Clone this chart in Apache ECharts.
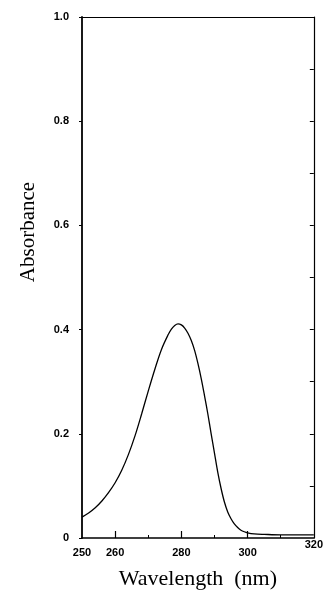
<!DOCTYPE html>
<html>
<head>
<meta charset="utf-8">
<script src="https://cdn.jsdelivr.net/npm/echarts@6/dist/echarts.min.js"></script>
<style>
  html, body { margin: 0; padding: 0; background: #fff; }
  #chart { width: 326px; height: 595px; }
</style>
</head>
<body>
<div id="chart"></div>
<script>
// absorption spectrum
const wavelength = [250, 252, 254, 256, 258, 260, 262, 264, 266, 268, 270, 272, 274, 276, 277, 278, 279, 280,
  281, 282, 283, 284, 285, 286, 287, 288, 289, 290, 291, 292, 293, 294, 295, 296, 297, 298, 299, 300,
  302, 305, 310, 315, 320];
const absorbance = [0.040, 0.048, 0.058, 0.071, 0.087, 0.106, 0.130, 0.160, 0.196, 0.238, 0.282, 0.324, 0.362, 0.390, 0.401, 0.408, 0.411, 0.409,
  0.403, 0.393, 0.379, 0.360, 0.335, 0.306, 0.273, 0.238, 0.200, 0.163, 0.126, 0.095, 0.069, 0.050, 0.037, 0.027, 0.020, 0.015, 0.012, 0.010,
  0.008, 0.007, 0.006, 0.006, 0.006];

const xLabels = [250, 260, 280, 300, 320];
const xMajorTicks = [260, 280, 300];
const xMinorTicks = [270, 290, 310];
const yLabels = [0, 0.2, 0.4, 0.6, 0.8, 1.0];
const yRightTicks = [0.1, 0.2, 0.3, 0.4, 0.5, 0.6, 0.7, 0.8, 0.9];

const chart = echarts.init(document.getElementById('chart'), null, { renderer: 'canvas' });

const tickFont = { fontFamily: 'Liberation Sans', fontWeight: 'bold', fontSize: 11, color: '#000' };

const option = {
  animation: false,
  backgroundColor: '#fff',
  grid: { left: 82, right: 10, top: 17, bottom: 51 },
  graphic: [{
    type: 'text',
    x: 28,
    y: 232,
    rotation: Math.PI / 2,
    style: {
      text: 'Absorbance',
      font: '21px "Liberation Serif"',
      fill: '#000',
      align: 'center',
      verticalAlign: 'middle'
    }
  }],
  xAxis: [
    {
      type: 'value',
      position: 'bottom',
      min: 250,
      max: 320,
      interval: 10,
      axisLine: { lineStyle: { color: '#000', width: 1.5 } },
      axisTick: { inside: true, length: 7, customValues: xMajorTicks, lineStyle: { color: '#000', width: 1.2 } },
      axisLabel: {
        customValues: xLabels,
        margin: 1,
        formatter: v => v === 320 ? '{hi|320}' : '{n|' + v + '}',
        rich: {
          n: Object.assign({ lineHeight: 27 }, tickFont),
          hi: Object.assign({ lineHeight: 11 }, tickFont)
        }
      },
      splitLine: { show: false },
      name: 'Wavelength  (nm)',
      nameLocation: 'middle',
      nameGap: 41,
      nameTextStyle: { fontFamily: 'Liberation Serif', fontSize: 22, color: '#000', verticalAlign: 'middle' }
    },
    {
      type: 'value',
      position: 'bottom',
      min: 250,
      max: 320,
      interval: 10,
      axisLine: { show: false },
      axisTick: { inside: true, length: 3, customValues: xMinorTicks, lineStyle: { color: '#000', width: 1 } },
      axisLabel: { show: false },
      splitLine: { show: false }
    },
    {
      type: 'value',
      position: 'top',
      min: 250,
      max: 320,
      axisLine: { lineStyle: { color: '#000', width: 1 } },
      axisTick: { show: false },
      axisLabel: { show: false },
      splitLine: { show: false }
    }
  ],
  yAxis: [
    {
      type: 'value',
      position: 'left',
      min: 0,
      max: 1.0,
      interval: 0.2,
      axisLine: { show: true, lineStyle: { color: '#000', width: 1.8 } },
      axisTick: { show: true, length: 3, lineStyle: { color: '#000', width: 1 } },
      axisLabel: Object.assign({
        customValues: yLabels,
        margin: 13,
        formatter: v => v === 0 ? '0' : v.toFixed(1)
      }, tickFont),
      splitLine: { show: false }
    },
    {
      type: 'value',
      position: 'right',
      min: 0,
      max: 1.0,
      interval: 0.1,
      axisLine: { show: true, lineStyle: { color: '#000', width: 1.2 } },
      axisTick: { show: true, inside: true, length: 4, customValues: yRightTicks, lineStyle: { color: '#000', width: 1 } },
      axisLabel: { show: false },
      splitLine: { show: false }
    }
  ],
  series: [{
    type: 'line',
    xAxisIndex: 0,
    yAxisIndex: 0,
    data: wavelength.map((w, i) => [w, absorbance[i]]),
    showSymbol: false,
    smooth: 0.35,
    lineStyle: { color: '#000', width: 1.3 }
  }]
};

chart.setOption(option);
</script>
</body>
</html>
